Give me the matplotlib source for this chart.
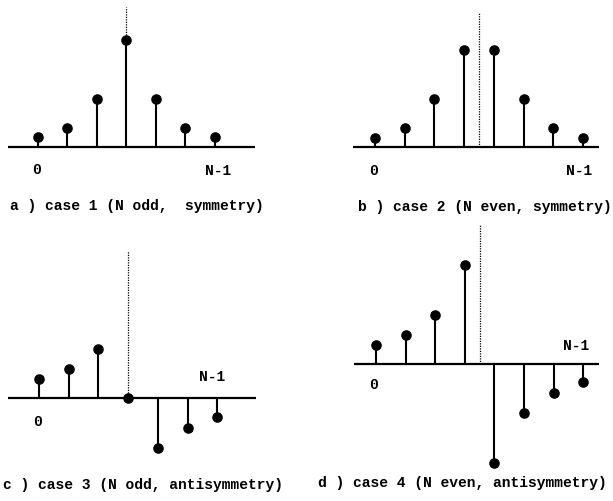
import matplotlib
matplotlib.use("Agg")
import matplotlib.pyplot as plt
import numpy as np

# ---- data (stem heights, arbitrary units) ----
vals_a = [1.0, 1.9, 4.8, 10.7, 4.8, 1.9, 1.0]                 # N odd, symmetry
vals_b = [0.9, 1.9, 4.8, 9.7, 9.7, 4.8, 1.9, 0.9]            # N even, symmetry
vals_c = [1.9, 2.9, 4.9, 0.0, -5.0, -3.0, -1.9]              # N odd, antisymmetry
vals_d = [1.9, 2.9, 4.9, 9.9, -9.9, -4.9, -2.9, -1.8]        # N even, antisymmetry

captions = ["a ) case 1 (N odd,  symmetry)",
            "b ) case 2 (N even, symmetry)",
            "c ) case 3 (N odd, antisymmetry)",
            "d ) case 4 (N even, antisymmetry)"]
start_label = "0"
end_label = "N-1"

W, H = 613, 502
DPI = 100
fig = plt.figure(figsize=(W / DPI, H / DPI), dpi=DPI)
fig.patch.set_facecolor("white")

FONT = dict(family="Liberation Mono", weight="bold", size=10.5, color="black")

# layout per panel (pixel geometry)
panels = [
    dict(vals=vals_a, box=(0, 0, 306, 220), x0=38, y0=148, dx=29.5, dy=10.0,
         base=(8, 255), dot_top=8, lab0=(37, 170), labN=(218, 171),
         cap=(10, 206)),
    dict(vals=vals_b, box=(306, 0, 307, 220), x0=375, y0=148, dx=29.7, dy=10.0,
         base=(353, 599), dot_top=14, lab0=(373, 171), labN=(579, 171),
         cap=(358, 207)),
    dict(vals=vals_c, box=(0, 220, 306, 282), x0=39, y0=399, dx=29.7, dy=10.0,
         base=(8, 256), dot_top=252, lab0=(37, 422), labN=(212, 377),
         cap=(3, 485)),
    dict(vals=vals_d, box=(306, 220, 307, 282), x0=376, y0=365, dx=29.6, dy=10.0,
         base=(354, 599), dot_top=226, lab0=(373, 385), labN=(576, 346),
         cap=(318, 483)),
]

for idx, p in enumerate(panels):
    bx, by, bw, bh = p["box"]
    ax = fig.add_axes([bx / W, 1 - (by + bh) / H, bw / W, bh / H])
    ax.set_axis_off()
    # pixel -> data mapping
    px2x = lambda px, p=p: (px - p["x0"]) / p["dx"]
    px2y = lambda py, p=p: (p["y0"] - py) / p["dy"]
    ax.set_xlim(px2x(bx), px2x(bx + bw))
    ax.set_ylim(px2y(by + bh), px2y(by))

    vals = np.array(p["vals"])
    n = np.arange(len(vals))
    N = len(vals)

    # baseline
    ax.plot([px2x(p["base"][0]), px2x(p["base"][1])], [0, 0],
            color="black", lw=1.6, solid_capstyle="butt", zorder=2)
    # stems
    ax.vlines(n, 0, vals, color="black", lw=1.5, zorder=2)
    ax.plot(n, vals, "o", color="black", ms=6.6, zorder=3)

    # symmetry line (dotted)
    xc = (N - 1) / 2
    top = px2y(p["dot_top"])
    ystart = vals.max() if N % 2 == 1 and vals[N // 2] != 0 else 0
    ax.plot([xc, xc], [ystart, top], color="black", lw=0.9,
            linestyle=(0, (1, 1)), zorder=1)

    # labels
    ax.text(px2x(p["lab0"][0]), px2y(p["lab0"][1]), start_label,
            ha="center", va="center", **FONT)
    ax.text(px2x(p["labN"][0]), px2y(p["labN"][1]), end_label,
            ha="center", va="center", **FONT)

    fig.text(p["cap"][0] / W, 1 - p["cap"][1] / H, captions[idx],
             ha="left", va="center", **FONT)

fig.savefig("out.png", dpi=DPI, facecolor="white")
